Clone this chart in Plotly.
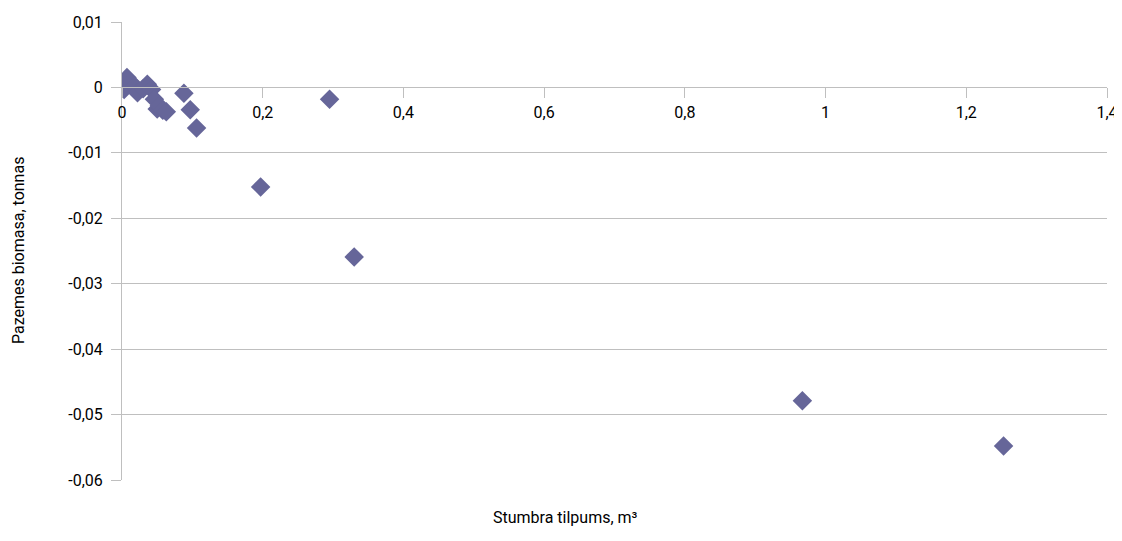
import plotly.graph_objects as go

stem_volume = [0.001, 0.003, 0.007, 0.012, 0.018, 0.022, 0.030, 0.036, 0.042, 0.046,
               0.050, 0.053, 0.058, 0.063, 0.088, 0.097, 0.106, 0.197, 0.295, 0.330,
               0.967, 1.253]
biomass = [0.0002, -0.0003, 0.0015, 0.0008, 0.0002, -0.0008, -0.0002, 0.0005, -0.0003, -0.0018,
           -0.0033, -0.0028, -0.0035, -0.0037, -0.0009, -0.0034, -0.0062, -0.0152, -0.0018, -0.0259,
           -0.0479, -0.0548]

x_ticks = [0, 0.2, 0.4, 0.6, 0.8, 1.0, 1.2, 1.4]
x_ticktext = ["0", "0,2", "0,4", "0,6", "0,8", "1", "1,2", "1,4"]
y_ticks = [0.01, 0, -0.01, -0.02, -0.03, -0.04, -0.05, -0.06]
y_ticktext = ["0,01", "0", "-0,01", "-0,02", "-0,03", "-0,04", "-0,05", "-0,06"]

FONT = "Roboto, sans-serif"
FS = 16

fig = go.Figure(go.Scatter(
    x=stem_volume, y=biomass, mode="markers",
    marker=dict(symbol="diamond", size=15, color="#666699"),
))

# page body has an 8px default margin, so the figure is sized to fit the window
ymin, ymax = -0.06, 0.01
fig.update_layout(
    width=1112, height=525,
    margin=dict(l=114, r=13, t=14, b=53),
    plot_bgcolor="white", paper_bgcolor="white",
    showlegend=False,
    font=dict(family=FONT, size=FS, color="black"),
    xaxis=dict(
        range=[0, 1.4], tickvals=x_ticks, ticktext=x_ticktext,
        showgrid=False, zeroline=False, automargin=False,
        showline=True, linecolor="#bfbfbf", linewidth=1,
        ticks="outside", ticklen=10, tickcolor="#bfbfbf",
        anchor="free", position=(0 - ymin) / (ymax - ymin),
        ticklabeloverflow="allow",
        tickfont=dict(family=FONT, size=FS),
    ),
    yaxis=dict(
        range=[ymin, ymax], tickvals=y_ticks, ticktext=y_ticktext,
        showgrid=True, gridcolor="#bfbfbf", gridwidth=1, zeroline=False, automargin=False,
        showline=True, linecolor="#bfbfbf", linewidth=1,
        ticks="outside", ticklen=10, tickcolor="#bfbfbf",
        ticklabelstandoff=5,
        tickfont=dict(family=FONT, size=FS),
    ),
)
fig.add_annotation(text="Stumbra tilpums, m³", xref="paper", yref="paper",
                   x=0.45, y=0, yshift=-37, yanchor="middle", showarrow=False,
                   font=dict(family=FONT, size=FS))
fig.add_annotation(text="Pazemes biomasa, tonnas", xref="paper", yref="paper",
                   x=0, y=0.5, xshift=-104, xanchor="center", yanchor="middle",
                   textangle=-90, showarrow=False,
                   font=dict(family=FONT, size=FS))
fig.write_html("out.html")
